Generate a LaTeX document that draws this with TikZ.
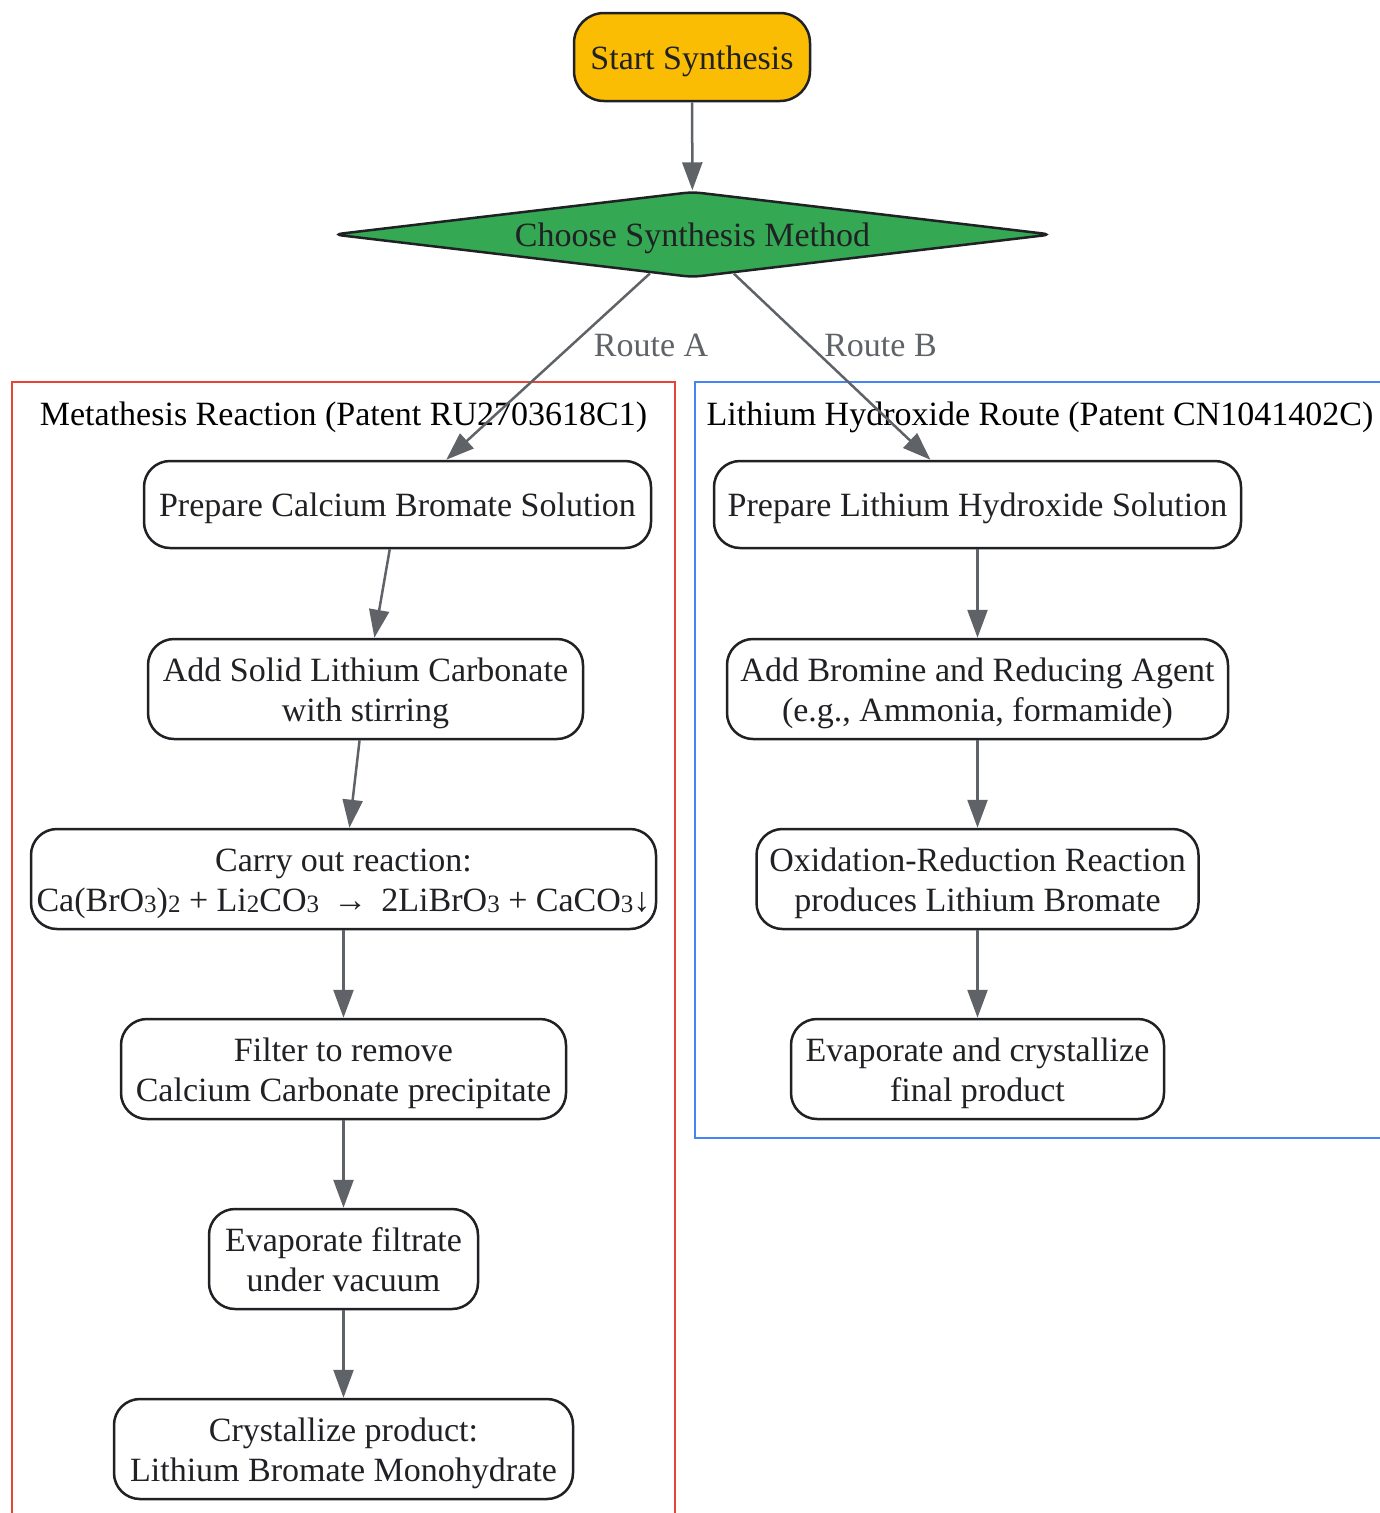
\documentclass[tikz,border=0pt]{standalone}
\usepackage{fontspec}
\setmainfont{Liberation Serif}
\usetikzlibrary{arrows.meta,shapes.geometric}
\definecolor{ink}{HTML}{202124}
\definecolor{edgegray}{HTML}{5F6368}
\definecolor{gyellow}{HTML}{FBBC04}
\definecolor{ggreen}{HTML}{34A853}
\definecolor{gred}{HTML}{EA4335}
\definecolor{gblue}{HTML}{4285F4}
\newcommand{\sbs}[1]{\raisebox{-1.5pt}{\fontsize{25}{25}\selectfont #1}}
\newcommand{\topstrut}{\rule{0pt}{32pt}}
\newcommand{\toptwostrut}{\rule{0pt}{72pt}}
\newcommand{\botstrut}{\rule[-8pt]{0pt}{8pt}}
\begin{document}
\begin{tikzpicture}[x=1pt,y=-1pt,
  txt/.style={font=\fontsize{34}{40}\selectfont, inner sep=0pt,
    execute at begin node=\topstrut, execute at end node=\botstrut},
  box/.style={txt, draw=ink, line width=2.5pt, rounded corners=26pt, align=center, text=ink, fill=white},
  boxtwo/.style={box, execute at begin node=\toptwostrut, minimum height=100pt},
  conn/.style={draw=edgegray, line width=2.5pt, -{Triangle[length=28pt,width=20pt]}},
  lbl/.style={txt, text=edgegray},
  ctitle/.style={txt, text=black}
]
\useasboundingbox (0,0) rectangle (1380,1513);

% clusters
\draw[gred, line width=2.5pt] (12,1530) -- (12,382) -- (675,382) -- (675,1530);
\draw[gblue, line width=2.5pt] (1395,382) -- (695,382) -- (695,1138) -- (1395,1138);
\node[ctitle] (ta) at (343.5,413) {Metathesis Reaction (Patent RU2703618C1)};
\node[ctitle] (tb) at (1040,413) {Lithium Hydroxide Route (Patent CN1041402C)};

% start and decision
\node[box, fill=gyellow, rounded corners=30pt, minimum width=236pt, minimum height=88pt] (s) at (692,57) {Start Synthesis};
\node[txt, diamond, aspect=8.34, draw=ink, fill=ggreen, line width=2.5pt, rounded corners=9pt,
  minimum width=719pt, minimum height=86pt, text=ink] (d) at (692.5,234.5) {Choose Synthesis Method};

% left branch
\node[box, minimum width=507pt, minimum height=87pt] (l1) at (397.5,504.5) {Prepare Calcium Bromate Solution};
\node[boxtwo, minimum width=435pt] (l2) at (365.5,689) {Add Solid Lithium Carbonate\\with stirring};
\node[boxtwo, minimum width=625pt] (l3) at (343.5,879) {Carry out reaction:\\Ca(BrO\sbs{3})\sbs{2} + Li\sbs{2}CO\sbs{3} \,→\, 2LiBrO\sbs{3} + CaCO\sbs{3}↓};
\node[boxtwo, minimum width=445pt] (l4) at (343.5,1069) {Filter to remove\\Calcium Carbonate precipitate};
\node[boxtwo, minimum width=269pt] (l5) at (343.5,1259) {Evaporate filtrate\\under vacuum};
\node[boxtwo, minimum width=459pt] (l6) at (343.5,1449) {Crystallize product:\\Lithium Bromate Monohydrate};

% right branch
\node[box, minimum width=527pt, minimum height=87pt] (r1) at (977.5,504.5) {Prepare Lithium Hydroxide Solution};
\node[boxtwo, minimum width=501pt] (r2) at (977.5,689) {Add Bromine and Reducing Agent\\(e.g., Ammonia, formamide)};
\node[boxtwo, minimum width=442pt] (r3) at (977.5,879) {Oxidation-Reduction Reaction\\produces Lithium Bromate};
\node[boxtwo, minimum width=373pt] (r4) at (977.5,1069) {Evaporate and crystallize\\final product};

% connectors
\draw[conn] (s) -- (d);
\draw[conn] (d) -- (l1);
\draw[conn] (d) -- (r1);
\node[lbl] (la) at (651,344) {Route A};
\node[lbl] (lb) at (880.5,344) {Route B};
\draw[conn] (l1) -- (l2);
\draw[conn] (l2) -- (l3);
\draw[conn] (l3) -- (l4);
\draw[conn] (l4) -- (l5);
\draw[conn] (l5) -- (l6);
\draw[conn] (r1) -- (r2);
\draw[conn] (r2) -- (r3);
\draw[conn] (r3) -- (r4);
\end{tikzpicture}
\end{document}
